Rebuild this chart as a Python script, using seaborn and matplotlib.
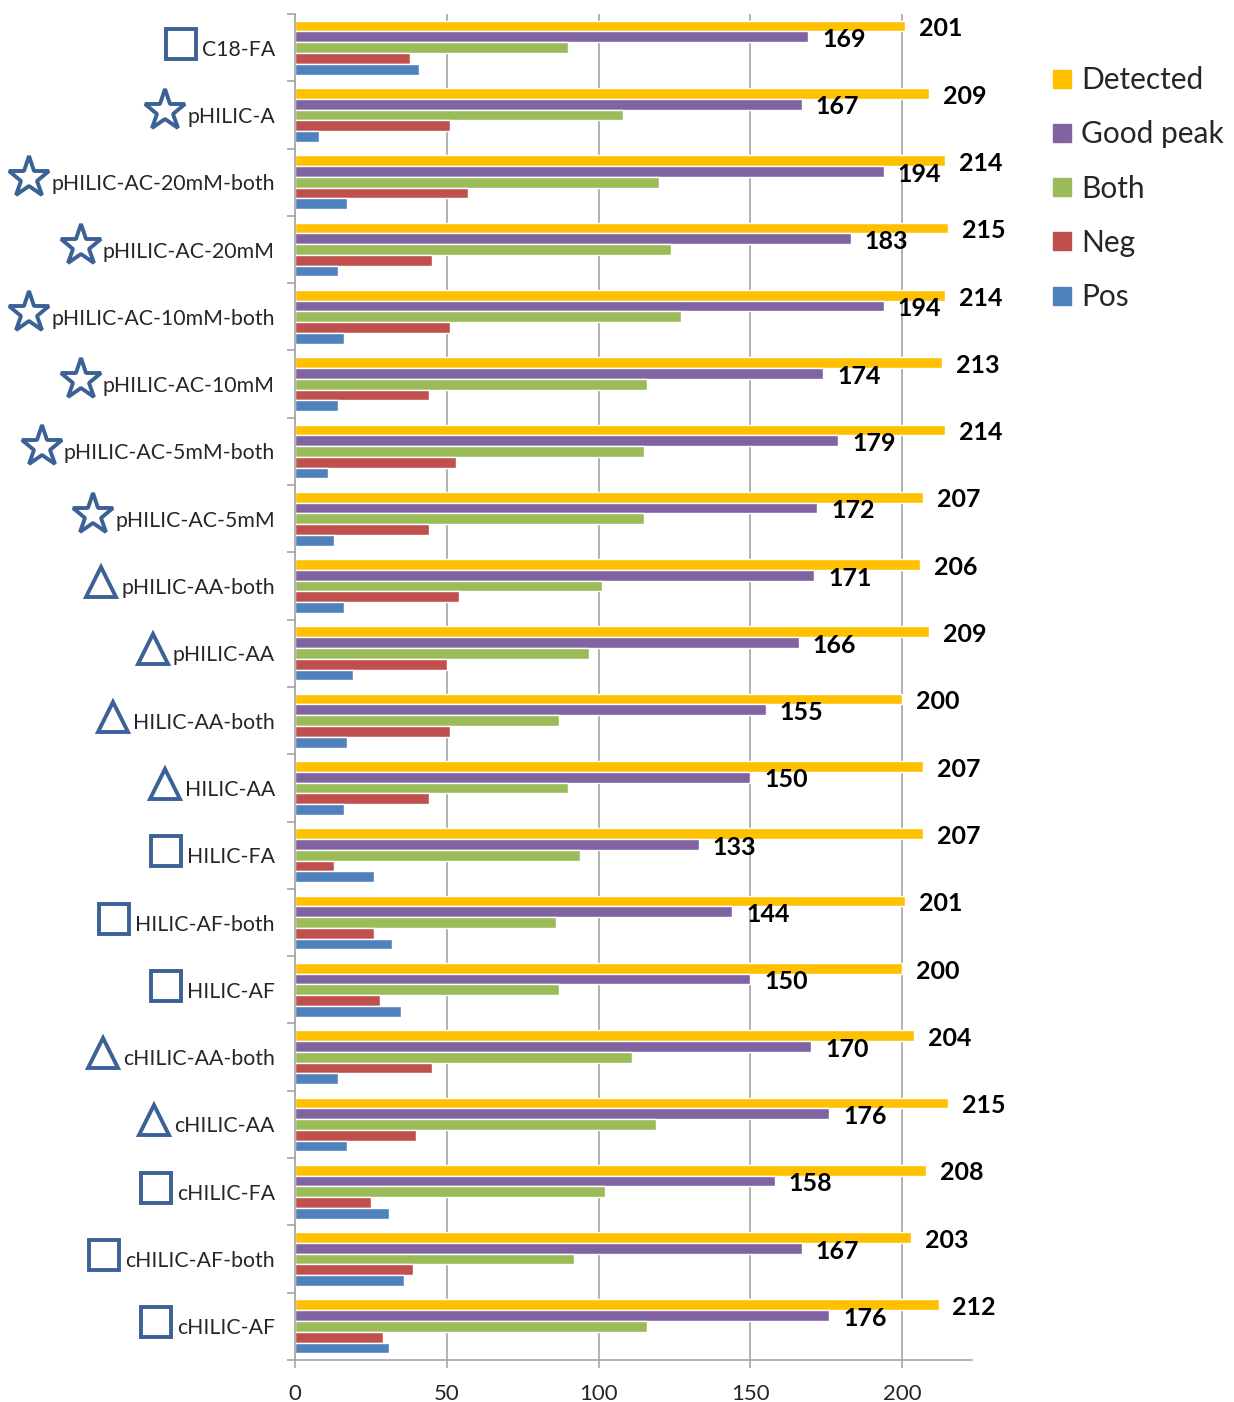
import numpy as np
import pandas as pd
import matplotlib.pyplot as plt
import seaborn as sns
from matplotlib.lines import Line2D
from matplotlib.ticker import FixedLocator

# Samples, top to bottom
samples = ['C18-FA', 'pHILIC-A', 'pHILIC-AC-20mM-both', 'pHILIC-AC-20mM',
           'pHILIC-AC-10mM-both', 'pHILIC-AC-10mM', 'pHILIC-AC-5mM-both',
           'pHILIC-AC-5mM', 'pHILIC-AA-both', 'pHILIC-AA', 'HILIC-AA-both',
           'HILIC-AA', 'HILIC-FA', 'HILIC-AF-both', 'HILIC-AF', 'cHILIC-AA-both',
           'cHILIC-AA', 'cHILIC-FA', 'cHILIC-AF-both', 'cHILIC-AF']
sample_marks = ['square', 'star', 'star', 'star', 'star', 'star', 'star', 'star',
                'triangle', 'triangle', 'triangle', 'triangle', 'square', 'square',
                'square', 'triangle', 'triangle', 'square', 'square', 'square']

series = ['Detected', 'Good peak', 'Both', 'Neg', 'Pos']
detected = [201, 209, 214, 215, 214, 213, 214, 207, 206, 209, 200, 207, 207, 201, 200, 204, 215, 208, 203, 212]
good_peak = [169, 167, 194, 183, 194, 174, 179, 172, 171, 166, 155, 150, 133, 144, 150, 170, 176, 158, 167, 176]
both = [90, 108, 120, 124, 127, 116, 115, 115, 101, 97, 87, 90, 94, 86, 87, 111, 119, 102, 92, 116]
neg = [38, 51, 57, 45, 51, 44, 53, 44, 54, 50, 51, 44, 13, 26, 28, 45, 40, 25, 39, 29]
pos = [41, 8, 17, 14, 16, 14, 11, 13, 16, 19, 17, 16, 26, 32, 35, 14, 17, 31, 36, 31]

colors = ['#FFC000', '#8064A2', '#9BBB59', '#C0504D', '#4F81BD']
mark_color = '#3B6196'
grid_color = '#A6A6A6'

df = pd.DataFrame({
    'sample': samples * len(series),
    'series': np.repeat(series, len(samples)),
    'count': detected + good_peak + both + neg + pos,
})

sns.set_style('white')
plt.rcParams['font.family'] = ['Lato', 'DejaVu Sans']

fig = plt.figure(figsize=(12.34, 14.02), dpi=100)
ax = fig.add_axes([295 / 1234, 42 / 1402, (972 - 295) / 1234, (1360 - 14) / 1402])

sns.barplot(data=df, x='count', y='sample', hue='series', hue_order=series,
            order=samples, palette=colors, orient='h', width=0.8, saturation=1,
            legend=False, ax=ax)

# value labels for Detected and Good peak (sit a touch below the bar centre)
for cont, vals in zip(ax.containers[:2], [detected, good_peak]):
    texts = ax.bar_label(cont, labels=[str(v) for v in vals], padding=10,
                         fontsize=18, fontweight='bold', color='black')
    for t in texts:
        t.set_y(t.get_position()[1] - 2)

ax.set_xlim(0, 223)
ax.set_ylim(len(samples) - 0.5, -0.5)
ax.set_xticks([0, 50, 100, 150, 200])
ax.xaxis.grid(True, color=grid_color, lw=1.2)
ax.yaxis.grid(False)
ax.set_axisbelow(True)
ax.set_xlabel('')
ax.set_ylabel('')

ax.yaxis.set_minor_locator(FixedLocator(np.arange(-0.5, len(samples), 1)))
ax.tick_params(axis='y', which='major', left=False, length=0, pad=14.5, labelsize=15.3)
ax.tick_params(axis='y', which='minor', left=True, length=6, width=1.2,
               color=grid_color, direction='out')
ax.tick_params(axis='x', bottom=True, length=6, width=1.2, color=grid_color,
               direction='out', pad=11, labelsize=16)

for side in ['top', 'right']:
    ax.spines[side].set_visible(False)
for side in ['left', 'bottom']:
    ax.spines[side].set_color(grid_color)
    ax.spines[side].set_linewidth(1.2)

handles = [Line2D([], [], marker='s', ls='', ms=13, mfc=c, mec=c) for c in colors]
ax.legend(handles, series, loc='upper left', bbox_to_anchor=(1050 / 1234, 1 - 66 / 1402),
          bbox_transform=fig.transFigure, frameon=False, fontsize=21.5,
          labelspacing=0.88, handlelength=0.8, handletextpad=0.25,
          borderpad=0, borderaxespad=0)

# outline symbols in front of the sample names
fig.canvas.draw()
renderer = fig.canvas.get_renderer()
marker_style = {'square': ('s', 21, 16), 'star': ('*', 31, 17), 'triangle': ('^', 22, 15)}
inv = fig.transFigure.inverted()
for lbl, mk in zip(ax.get_yticklabels(), sample_marks):
    bb = lbl.get_window_extent(renderer)
    m, ms, half = marker_style[mk]
    fx, fy = inv.transform((bb.x0 - 5 - half, (bb.y0 + bb.y1) / 2 + 6))
    fig.add_artist(Line2D([fx], [fy], marker=m, ms=ms, mfc='white', mec=mark_color,
                          mew=2.8, transform=fig.transFigure, clip_on=False))

fig.savefig('out.png', dpi=100)
